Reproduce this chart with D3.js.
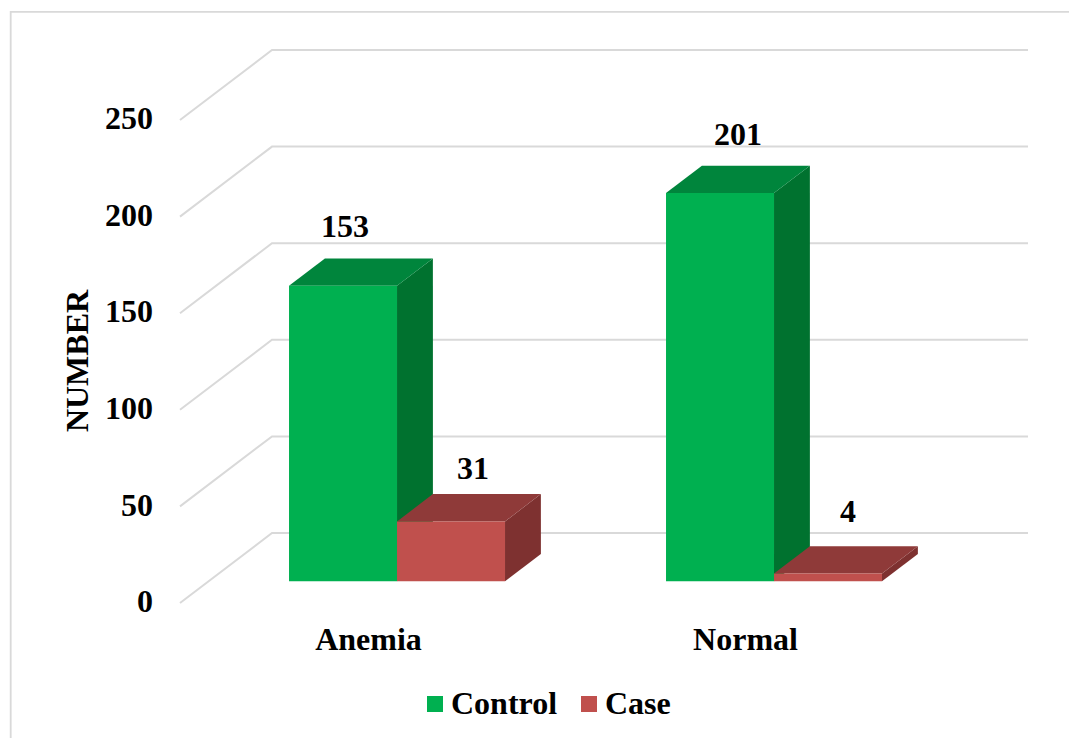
<!DOCTYPE html>
<html>
<head>
<meta charset="utf-8">
<script src="https://cdn.jsdelivr.net/npm/d3@7"></script>
<style>
  html, body { margin: 0; padding: 0; background: #fff; }
  svg { display: block; }
  text { font-family: "Liberation Serif", serif; font-weight: bold; fill: #000; font-size: 32px; }
</style>
</head>
<body>
<svg id="chart" width="1069" height="738"></svg>
<script>
const categories = ["Anemia", "Normal"];
const seriesNames = ["Control", "Case"];
const controlValues = [153, 201];
const caseValues = [31, 4];
const yTicks = [0, 50, 100, 150, 200, 250];

const palette = {
  Control: { front: "#00b050", top: "#00853c", side: "#00722f" },
  Case: { front: "#c0504d", top: "#8f3a39", side: "#7e3130" }
};
const gridColor = "#d9d9d9";

const svg = d3.select("#chart");

// Front plane of the oblique 3D box; depth runs up and to the right.
const depthX = 92, depthY = 70;
const y = d3.scaleLinear().domain([0, 250]).range([603, 120]);
const x0 = d3.scaleBand().domain(categories).range([179, 935]).paddingInner(0.42706).paddingOuter(0.2162);
const x1 = d3.scaleBand().domain(seriesNames).range([0, x0.bandwidth()]);

// Bars occupy this slice of the floor's depth.
const barNear = 0.31, barFar = 0.70;
const project = (px, value, d) => [px + d * depthX, y(value) - d * depthY];

// Chart frame
svg.append("path")
  .attr("d", "M10.7,738V11.8H1069")
  .attr("fill", "none").attr("stroke", gridColor).attr("stroke-width", 1.8);

// Back wall and left wall gridlines
const grid = svg.append("g").attr("fill", "none").attr("stroke", gridColor).attr("stroke-width", 2);
grid.selectAll("path").data(yTicks).join("path")
  .attr("d", v => d3.line()([project(180, v, 0), project(180, v, 1), project(936, v, 1)]));

// Value axis: labels only
svg.append("g")
  .attr("transform", "translate(180,0)")
  .call(d3.axisLeft(y).tickValues(yTicks).tickSize(0).tickPadding(27).tickFormat(d3.format("d")))
  .call(g => g.select(".domain").remove())
  .call(g => g.selectAll("text").attr("font-size", null).attr("font-family", null).attr("fill", null).attr("dy", "0.27em"));

const rows = categories.flatMap((c, i) => [
  { category: c, series: "Control", value: controlValues[i] },
  { category: c, series: "Case", value: caseValues[i] }
]);

// Later bars overlap earlier ones, so each row is drawn left to right.
const bars = svg.append("g").selectAll("g").data(rows).join("g");

const poly = pts => d3.line()(pts) + "Z";
const corners = d => {
  const l = x0(d.category) + x1(d.series), r = l + x1.bandwidth();
  return {
    a: project(l, 0, barNear), b: project(r, 0, barNear),
    c: project(r, d.value, barNear), e: project(l, d.value, barNear),
    f: project(l, d.value, barFar), g: project(r, d.value, barFar),
    h: project(r, 0, barFar)
  };
};
bars.append("path").attr("fill", d => palette[d.series].side)
  .attr("d", d => { const k = corners(d); return poly([k.b, k.c, k.g, k.h]); });
bars.append("path").attr("fill", d => palette[d.series].top)
  .attr("d", d => { const k = corners(d); return poly([k.e, k.c, k.g, k.f]); });
bars.append("path").attr("fill", d => palette[d.series].front)
  .attr("d", d => { const k = corners(d); return poly([k.a, k.b, k.c, k.e]); });

// Value labels sit above each bar, nudged by hand in the source layout.
const labelNudge = [[2, -49], [22, -42], [18, -48], [20, -52]];
bars.append("text")
  .attr("text-anchor", "middle")
  .attr("x", (d, i) => project(x0(d.category) + x1(d.series) + x1.bandwidth() / 2, d.value, barNear)[0] + labelNudge[i][0])
  .attr("y", (d, i) => project(0, d.value, barNear)[1] + labelNudge[i][1])
  .text(d => d.value);

// Category labels
svg.append("g").selectAll("text").data(categories).join("text")
  .attr("text-anchor", "middle")
  .attr("x", c => x0(c) + x0.bandwidth() / 2)
  .attr("y", 650)
  .text(c => c);

// Axis title
svg.append("text")
  .attr("text-anchor", "middle")
  .attr("transform", "translate(88,361) rotate(-90)")
  .text("NUMBER");

// Legend
const legendX = { Control: 427, Case: 581 };
const legend = svg.append("g").selectAll("g").data(seriesNames).join("g")
  .attr("transform", s => `translate(${legendX[s]},696)`);
legend.append("rect").attr("width", 16).attr("height", 16).attr("fill", s => palette[s].front);
legend.append("text").attr("x", 24).attr("y", 18).text(s => s);
</script>
</body>
</html>
